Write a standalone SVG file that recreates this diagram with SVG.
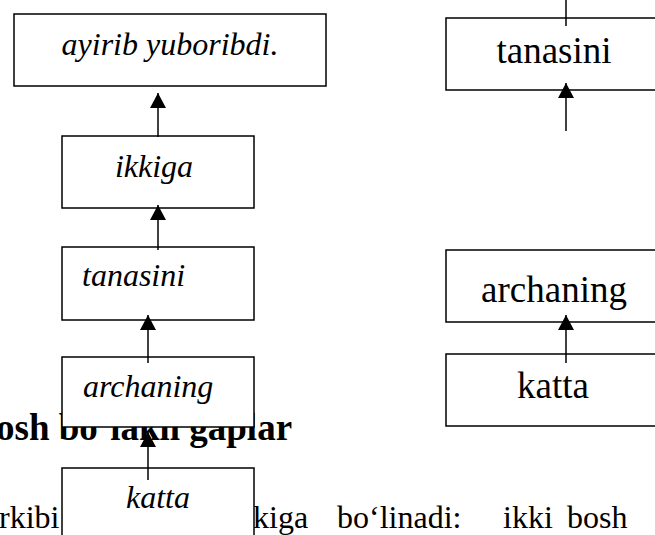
<svg xmlns="http://www.w3.org/2000/svg" width="655" height="535" viewBox="0 0 655 535">
<style>
  .box{fill:#fff;stroke:#000;stroke-width:1.5}
  .it{font-family:'Liberation Serif','Liberation Sans',sans-serif;font-style:italic;font-size:32px;fill:#000}
  .rg{font-family:'Liberation Serif','Liberation Sans',sans-serif;font-size:37px;fill:#000}
  .body{font-family:'Liberation Serif','Liberation Sans',sans-serif;font-size:32px;fill:#000}
  .head{font-family:'Liberation Serif',serif;font-weight:bold;font-size:37px;fill:#000}
  .conn line{stroke:#000;stroke-width:1.5}
</style>
<defs>
  <marker id="ah" markerUnits="userSpaceOnUse" markerWidth="16" markerHeight="16" viewBox="0 0 16 16" refX="15" refY="8" orient="auto">
    <path d="M0,0 L15,8 L0,16 z" fill="#000"/>
  </marker>
</defs>
<rect width="655" height="535" fill="#fff"/>
<text class="head" x="-4" y="440">osh bo‘lakli gaplar</text>
<text class="body" x="-1" y="528">rkibi</text>
<text class="body" y="528"><tspan x="253">kiga</tspan><tspan x="337">bo‘linadi:</tspan><tspan x="503">ikki</tspan><tspan x="567">bosh</tspan></text>

<g id="n-ayirib">
  <rect class="box" x="14" y="14" width="312" height="72"/>
  <text class="it" x="170" y="55" text-anchor="middle">ayirib yuboribdi.</text>
</g>
<g id="n-ikkiga">
  <rect class="box" x="62" y="136" width="192" height="72"/>
  <text class="it" x="154" y="177" text-anchor="middle">ikkiga</text>
</g>
<g id="n-tanasini-l">
  <rect class="box" x="62" y="247" width="192" height="73"/>
  <text class="it" x="82" y="286">tanasini</text>
</g>
<g id="n-archaning-l">
  <rect class="box" x="62" y="357" width="192" height="70"/>
  <text class="it" x="83" y="397">archaning</text>
</g>
<g id="n-katta-l">
  <rect class="box" x="62" y="468" width="192" height="80"/>
  <text class="it" x="158" y="508" text-anchor="middle">katta</text>
</g>

<g id="n-tanasini-r">
  <rect class="box" x="446" y="18" width="220" height="72"/>
  <text class="rg" x="554" y="63" text-anchor="middle">tanasini</text>
</g>
<g id="n-archaning-r">
  <rect class="box" x="446" y="250" width="220" height="72"/>
  <text class="rg" x="554" y="302" text-anchor="middle">archaning</text>
</g>
<g id="n-katta-r">
  <rect class="box" x="446" y="354" width="220" height="72"/>
  <text class="rg" x="553" y="398" text-anchor="middle">katta</text>
</g>

<g class="conn" id="connectors">
  <line x1="158" y1="137" x2="158" y2="93" marker-end="url(#ah)"/>
  <line x1="158" y1="250" x2="158" y2="205" marker-end="url(#ah)"/>
  <line x1="148" y1="363" x2="148" y2="315" marker-end="url(#ah)"/>
  <line x1="148" y1="480" x2="148" y2="432" marker-end="url(#ah)"/>
  <line x1="566" y1="0" x2="566" y2="26"/>
  <line x1="566" y1="131" x2="566" y2="83" marker-end="url(#ah)"/>
  <line x1="566" y1="363" x2="566" y2="315" marker-end="url(#ah)"/>
</g>
</svg>
